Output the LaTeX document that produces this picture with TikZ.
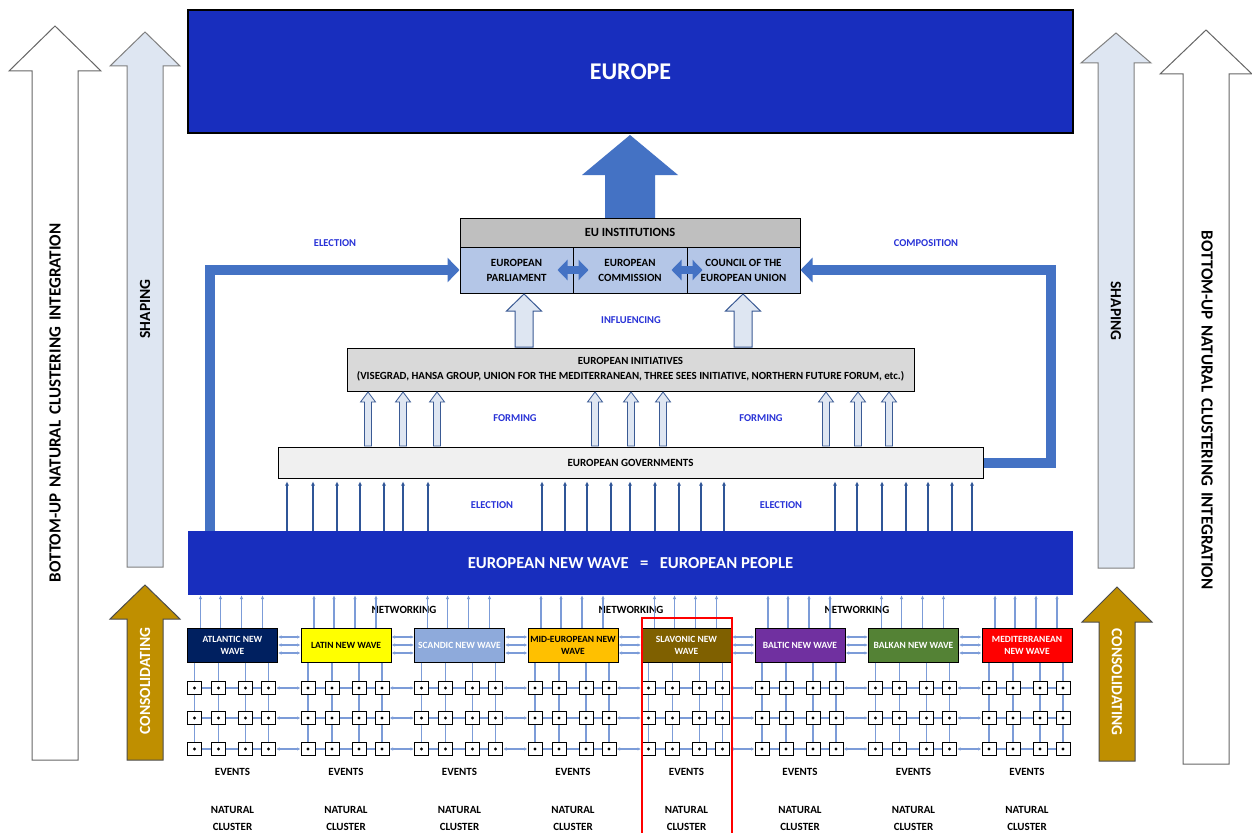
\documentclass[tikz,border=0pt]{standalone}
\usepackage{fontspec}
\setmainfont{Carlito}
\usetikzlibrary{arrows.meta,calc,positioning}

\definecolor{deepblue}{RGB}{24,46,190}
\definecolor{arrowblue}{HTML}{4472C4}
\definecolor{instgray}{HTML}{BFBFBF}
\definecolor{cellblue}{HTML}{B4C6E7}
\definecolor{initgray}{HTML}{D9D9D9}
\definecolor{govgray}{HTML}{F0F0F0}
\definecolor{labelblue}{RGB}{40,50,215}
\definecolor{thinblue}{HTML}{2F5597}
\definecolor{linkblue}{HTML}{7C9CD8}
\definecolor{dotfill}{HTML}{DEE6F2}
\definecolor{hollowedge}{HTML}{3A5A94}
\definecolor{consolgold}{HTML}{BF8F00}
\definecolor{atlantic}{HTML}{002060}
\definecolor{latin}{HTML}{FFFF00}
\definecolor{scandic}{HTML}{8EAADB}
\definecolor{mideu}{HTML}{FFC000}
\definecolor{slavonic}{HTML}{7F6000}
\definecolor{baltic}{HTML}{7030A0}
\definecolor{balkan}{HTML}{548235}
\definecolor{medit}{HTML}{FF0000}

% upward block arrow: [style]{x}{bottom}{tip}{shaft half}{head half}{head length}
\newcommand{\blockup}[7][]{%
  \draw[#1] (#2-#5,#3) -- (#2-#5,#4+#7) -- (#2-#6,#4+#7) -- (#2,#4)
    -- (#2+#6,#4+#7) -- (#2+#5,#4+#7) -- (#2+#5,#3) -- cycle;}
\newcommand{\wgap}{\hspace{6pt}}

\begin{document}
\begin{tikzpicture}[x=1pt,y=-1pt,
  every node/.style={font=\fontsize{11}{15}\selectfont\bfseries},
  box/.style={draw=black, line width=1pt, inner sep=0pt, align=center},
  lbl/.style={text=labelblue, font=\fontsize{10.5}{12}\selectfont\bfseries},
  sidetxt/.style={font=\fontsize{15.5}{17}\selectfont\bfseries},
  sidewhite/.style={draw=black!60, fill=white, line width=1pt},
  shapefill/.style={draw=black!50, fill=dotfill, line width=1pt},
  consol/.style={draw=black!70, fill=consolgold, line width=1pt},
  hollow/.style={draw=hollowedge, fill=dotfill, line width=1pt},
  flow/.style={draw=arrowblue, line width=10pt, -{Triangle[length=12pt,width=24pt]}},
  dbl/.style={draw=arrowblue, line width=8pt,
    {Triangle[length=10pt,width=20pt]}-{Triangle[length=10pt,width=20pt]}},
  vote/.style={draw=thinblue, line width=1.5pt, shorten >=3pt, -{Latex[length=4pt,width=4pt]}},
  rise/.style={draw=linkblue, line width=1.3pt, -{Latex[length=4pt,width=3.5pt]}},
  nets/.style={draw=linkblue, line width=1.3pt,
    {Latex[length=3.5pt,width=3.5pt]}-{Latex[length=3.5pt,width=3.5pt]}},
  evline/.style={draw=linkblue, line width=1.5pt},
  wave/.style={box, minimum width=90pt, minimum height=34pt,
    font=\fontsize{9.5}{12}\selectfont\bfseries},
  evt/.style={draw=black, line width=1pt, fill=white, inner sep=0pt,
    minimum width=14pt, minimum height=13pt,
    path picture={\fill[black] (path picture bounding box.center) circle (1.6pt);}}]

\path[use as bounding box, fill=white] (0,0) rectangle (1252,832);

% side arrows
\blockup[sidewhite]{55}{760}{26}{23}{46}{45}
\blockup[shapefill]{145}{567}{32}{18}{35}{34}
\blockup[consol]{145}{760}{585}{18}{35}{34}
\blockup[sidewhite]{1206}{764}{30}{23}{46}{44}
\blockup[shapefill]{1116}{568}{33}{18}{35}{30}
\blockup[consol]{1117}{761}{587}{18}{35}{35}

\node[sidetxt, font=\fontsize{17}{19}\selectfont\bfseries, rotate=90] (integl) at (55,403) {BOTTOM-UP\wgap NATURAL\wgap CLUSTERING\wgap INTEGRATION};
\node[sidetxt, font=\fontsize{17}{19}\selectfont\bfseries, rotate=-90] (integr) at (1207,410) {BOTTOM-UP\wgap NATURAL\wgap CLUSTERING\wgap INTEGRATION};
\node[sidetxt, rotate=90] (shapel) at (145,309) {SHAPING};
\node[sidetxt, rotate=-90] (shaper) at (1116,311) {SHAPING};
\node[sidetxt, rotate=90, text=white] (consl) at (145,681) {CONSOLIDATING};
\node[sidetxt, rotate=-90, text=white] (consr) at (1117,682) {CONSOLIDATING};

% europe and institutions
\node[box, fill=deepblue, text=white, line width=1.5pt, minimum width=885pt, minimum height=123pt,
  font=\fontsize{24}{28}\selectfont\bfseries] (europe) at (630.5,71.5) {EUROPE};
\blockup[draw=none, fill=arrowblue]{630}{218}{135}{25}{48}{40}

\node[box, fill=instgray, minimum width=340pt, minimum height=29pt,
  font=\fontsize{12.5}{15}\selectfont\bfseries] (inst) at (630,232.5) {EU INSTITUTIONS};
\node[box, fill=cellblue, minimum width=113pt, minimum height=46pt] (ep) at (516.5,270) {EUROPEAN\\PARLIAMENT};
\node[box, fill=cellblue, minimum width=114pt, minimum height=46pt] (ec) at (630,270) {EUROPEAN\\COMMISSION};
\node[box, fill=cellblue, minimum width=113pt, minimum height=46pt] (cu) at (743.5,270) {COUNCIL OF THE\\EUROPEAN UNION};
\draw[dbl] ($(ep.east)+(-16,0)$) -- ($(ec.west)+(16,0)$);
\draw[dbl] ($(ec.east)+(-16,0)$) -- ($(cu.west)+(16,0)$);

\node[box, fill=initgray, minimum width=567pt, minimum height=43pt,
  font=\fontsize{10.9}{15}\selectfont\bfseries] (init) at (630.5,369.5)
  {EUROPEAN INITIATIVES\\(VISEGRAD, HANSA GROUP, UNION FOR THE MEDITERRANEAN, THREE SEES INITIATIVE, NORTHERN FUTURE FORUM, etc.)};
\blockup[hollow]{524}{347}{294}{9}{17.5}{17}
\blockup[hollow]{743}{347}{294}{9}{17.5}{17}

\node[box, fill=govgray, minimum width=705pt, minimum height=31pt] (gov) at (630.5,462.5) {EUROPEAN GOVERNMENTS};
\foreach \x in {368,403,437,595,631,663,826,858,889} {
  \blockup[hollow, line width=0.8pt]{\x}{446}{392}{3.5}{7.5}{10}
}

\node[fill=deepblue, text=white, inner sep=0pt, minimum width=885pt, minimum height=64pt,
  font=\fontsize{16.7}{18}\selectfont\bfseries] (nw) at (630.5,563)
  {EUROPEAN NEW WAVE\ \ \ =\ \ \ EUROPEAN PEOPLE};

\draw[flow] ([xshift=22pt]nw.north west) |- (ep.west);
\draw[flow] (gov.east) -- ++(67,0) |- (cu.east);

\foreach \x in {287,313,337,360,384,403,428,542,565,587,611,630,655,679,701,724,835,857,882,906,928,952,972} {
  \path (\x,0) coordinate (v);
  \draw[vote] (v |- nw.north) -- (v |- gov.south);
}

\node[lbl] (elec1) at (335,243) {ELECTION};
\node[lbl] (comp) at (926,243) {COMPOSITION};
\node[lbl] (infl) at (631,320) {INFLUENCING};
\node[lbl] (form1) at (515,418) {FORMING};
\node[lbl] (form2) at (761,418) {FORMING};
\node[lbl] (elec2) at (492,505) {ELECTION};
\node[lbl] (elec3) at (781,505) {ELECTION};

\node (net1) at (404,610) {NETWORKING};
\node (net2) at (631,610) {NETWORKING};
\node (net3) at (857,610) {NETWORKING};

% new waves and natural clusters
\foreach \txt/\fc/\tc [count=\i] in {
    {ATLANTIC NEW\\WAVE}/atlantic/white, {LATIN NEW WAVE}/latin/black,
    {SCANDIC NEW WAVE}/scandic/white, {MID-EUROPEAN NEW\\WAVE}/mideu/black,
    {SLAVONIC NEW\\WAVE}/slavonic/white, {BALTIC NEW WAVE}/baltic/white,
    {BALKAN NEW WAVE}/balkan/white, {MEDITERRANEAN\\NEW WAVE}/medit/white} {
  \pgfmathsetmacro{\cx}{232.5+113.5*(\i-1)}
  \node[wave, fill=\fc, text=\tc] (wave\i) at (\cx,645) {\txt};
  \foreach \r/\ry in {1/688,2/718,3/749} {
    \foreach \dx [count=\c] in {-38,-14,13,36} {
      \node[evt] (sq\i\r\c) at (\cx+\dx,\ry) {};
    }
  }
  \node (evt\i) at (\cx,772) {EVENTS};
  \node[align=center, font=\fontsize{11}{17}\selectfont\bfseries] (nc\i) at (\cx,818.5) {NATURAL\\CLUSTER};
}

\foreach \i in {1,...,8} {
  \foreach \dx in {-32,-12,9,30} {
    \path (wave\i.north) ++(\dx,0) coordinate (u);
    \draw[rise] (u) -- (u |- nw.south);
  }
  \foreach \c in {1,...,4} {
    \draw[evline] (wave\i.south -| sq\i1\c) -- (sq\i1\c.north);
    \draw[evline] (sq\i1\c.south) -- (sq\i2\c.north);
    \draw[evline] (sq\i2\c.south) -- (sq\i3\c.north);
  }
  \foreach \r in {1,2,3} {
    \foreach \c/\d in {1/2,2/3,3/4}
      \draw[evline] (sq\i\r\c.east) -- (sq\i\r\d.west);
  }
}

\foreach \i [evaluate=\i as \j using int(\i+1)] in {1,...,7} {
  \foreach \s in {8,0,-8}
    \draw[nets] ([yshift=\s pt]wave\i.east) -- ([yshift=\s pt]wave\j.west);
  \foreach \r in {1,2,3}
    \draw[nets] (sq\i\r4.east) -- (sq\j\r1.west);
}

\draw[red, line width=2pt] (642,618) rectangle (732,834);
\end{tikzpicture}
\end{document}
